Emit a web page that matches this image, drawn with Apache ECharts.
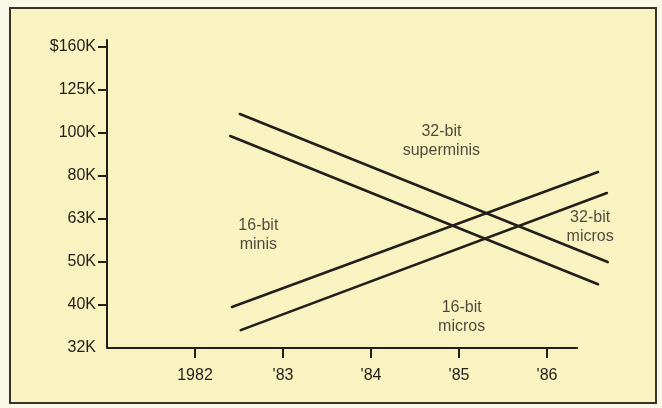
<!DOCTYPE html>
<html>
<head>
<meta charset="utf-8">
<script src="https://cdn.jsdelivr.net/npm/echarts@6/dist/echarts.min.js"></script>
<style>
  html, body { margin: 0; padding: 0; background: #faf8e6; }
  #chart { width: 662px; height: 408px; }
</style>
</head>
<body>
<div id="chart"></div>
<script>
// ---- Data (values in $K, x in years) ----
const xTickYears = [1982, 1983, 1984, 1985, 1986];
const xTickLabels = ['1982', "'83", "'84", "'85", "'86"];
const xAxisStartYear = 1981;
const xAxisEndYear = 1986.35;
const yTickValues = [31.62, 39.81, 50.12, 63.10, 79.43, 100, 125.89, 158.49];
const yTickLabels = ['32K', '40K', '50K', '63K', '80K', '100K', '125K', '$160K'];

const superminis32Years = [1982.51, 1986.69];
const superminis32Values = [110.7, 50.1];
const minis16Years = [1982.40, 1986.58];
const minis16Values = [98.4, 44.5];
const micros32Years = [1982.42, 1986.58];
const micros32Values = [39.4, 81.1];
const micros16Years = [1982.52, 1986.68];
const micros16Values = [34.8, 72.5];

const annoTexts = ['32-bit\nsuperminis', '16-bit\nminis', '32-bit\nmicros', '16-bit\nmicros'];
const annoYears = [1984.80, 1982.72, 1986.49, 1985.03];
const annoValues = [95.5, 57.9, 60.4, 37.3];

// ---- Styling ----
const ink = '#221e1a';
const font = 'Liberation Sans, Arial, Helvetica, sans-serif';

function pairs(xs, ys) { return xs.map((x, i) => [x, ys[i]]); }

function lineSeries(name, xs, ys) {
  return {
    name: name,
    type: 'line',
    data: pairs(xs, ys),
    showSymbol: false,
    symbol: 'none',
    clip: false,
    lineStyle: { color: ink, width: 2.6, cap: 'round' },
    z: 3
  };
}

const series = [
  lineSeries('32-bit superminis', superminis32Years, superminis32Values),
  lineSeries('16-bit minis', minis16Years, minis16Values),
  lineSeries('32-bit micros', micros32Years, micros32Values),
  lineSeries('16-bit micros', micros16Years, micros16Values)
];
// x-axis baseline drawn only up to its end year (lines run past it)
series[0].markLine = {
  silent: true,
  symbol: 'none',
  label: { show: false },
  lineStyle: { color: ink, width: 2, type: 'solid' },
  data: [[{ coord: [xAxisStartYear, yTickValues[0]] }, { coord: [xAxisEndYear, yTickValues[0]] }]]
};
series.push({
  name: 'labels',
  type: 'scatter',
  symbolSize: 0,
  clip: false,
  silent: true,
  data: annoTexts.map((t, i) => [annoYears[i], annoValues[i], t]),
  label: {
    show: true,
    position: 'inside',
    formatter: p => p.data[2],
    fontSize: 16,
    lineHeight: 19,
    align: 'center',
    verticalAlign: 'middle',
    color: ink,
    fontFamily: font
  },
  z: 4
});

const chart = echarts.init(document.getElementById('chart'), null, { renderer: 'canvas' });
chart.setOption({
  backgroundColor: '#faf8e6',
  animation: false,
  graphic: [{
    type: 'rect',
    z: -10,
    shape: { x: 10, y: 8, width: 646, height: 395 },
    style: { fill: '#f8f3c0', stroke: '#37322c', lineWidth: 2 },
    silent: true
  }],
  grid: { left: 107, right: 49, top: 40, bottom: 60, containLabel: false },
  xAxis: {
    type: 'value',
    min: xAxisStartYear,
    max: 1986.75,
    splitLine: { show: false },
    axisLine: { show: false },
    axisTick: { show: true, customValues: xTickYears, length: 10, inside: false, lineStyle: { color: ink, width: 2 } },
    axisLabel: {
      customValues: xTickYears,
      formatter: function (v) {
        const i = xTickYears.findIndex(y => Math.abs(y - v) < 0.01);
        return i >= 0 ? xTickLabels[i] : '';
      },
      margin: 20, fontSize: 16, color: ink, fontFamily: font
    }
  },
  yAxis: {
    type: 'log',
    logBase: Math.pow(10, 0.1),
    min: 31.62,
    max: 164.5,
    splitLine: { show: false },
    axisLine: { show: true, onZero: false, lineStyle: { color: ink, width: 2 } },
    axisTick: { show: true, customValues: yTickValues.slice(1), length: 9, inside: false, lineStyle: { color: ink, width: 2 } },
    axisLabel: {
      customValues: yTickValues,
      formatter: function (v) {
        let best = 0, bd = Infinity;
        yTickValues.forEach((t, i) => { const d = Math.abs(t - v); if (d < bd) { bd = d; best = i; } });
        return yTickLabels[best];
      },
      margin: 11, fontSize: 16, color: ink, fontFamily: font,
      padding: [0, 0, 5, 0]
    }
  },
  series: series
});
</script>
</body>
</html>
